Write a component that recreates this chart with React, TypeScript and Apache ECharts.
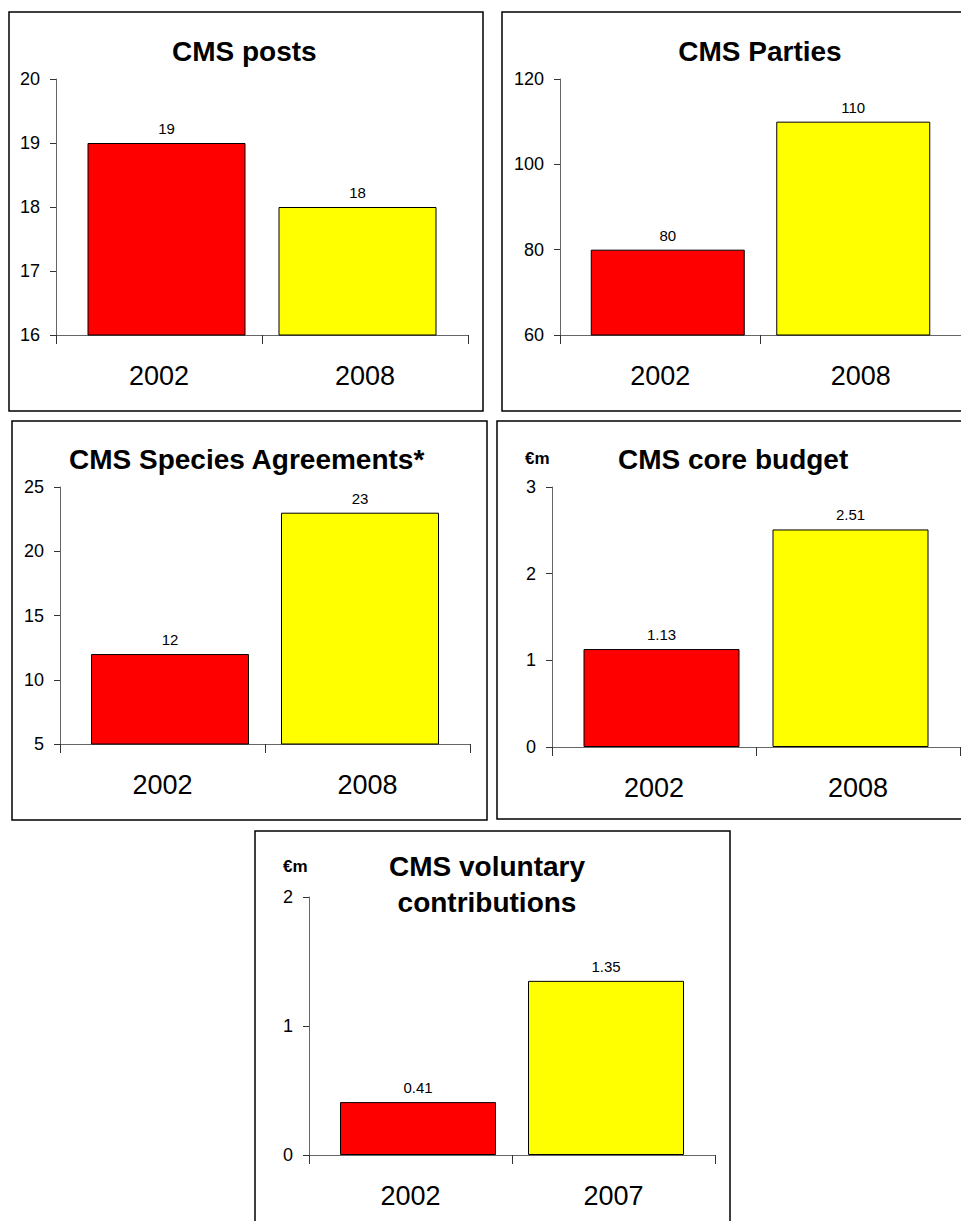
import React, { useEffect, useRef } from "react";
import * as echarts from "echarts";

const categoriesMain = ["2002", "2008"];
const categoriesVoluntary = ["2002", "2007"];
const posts = [19, 18];
const parties = [80, 110];
const agreements = [12, 23];
const coreBudget = [1.13, 2.51];
const voluntary = [0.41, 1.35];
const barColors = ["#FF0000", "#FFFF00"];

const FONT = "'Liberation Sans', Arial, sans-serif";

type Panel = {
  cats: string[];
  values: number[];
  min: number;
  max: number;
  interval: number;
  barWidth: number;
  grid: { left: number; top: number; width: number; height: number };
};

const panels: Panel[] = [
  { cats: categoriesMain, values: posts, min: 16, max: 20, interval: 1, barWidth: 158, grid: { left: 56, top: 79, width: 412, height: 256 } },
  { cats: categoriesMain, values: parties, min: 60, max: 120, interval: 20, barWidth: 154, grid: { left: 560, top: 79, width: 402, height: 256 } },
  { cats: categoriesMain, values: agreements, min: 5, max: 25, interval: 5, barWidth: 158, grid: { left: 60, top: 487, width: 410, height: 257 } },
  { cats: categoriesMain, values: coreBudget, min: 0, max: 3, interval: 1, barWidth: 156, grid: { left: 552, top: 487, width: 408, height: 260 } },
  { cats: categoriesVoluntary, values: voluntary, min: 0, max: 2, interval: 1, barWidth: 156, grid: { left: 309, top: 897, width: 406, height: 258 } },
];

const SHIFT = 7.5;

export default function App() {
  const ref = useRef<HTMLDivElement>(null);
  useEffect(() => {
    if (!ref.current) return;
    const chart = echarts.init(ref.current, null, { renderer: "svg" });
    const titleStyle = { fontFamily: FONT, fontSize: 28, fontWeight: "bold", fill: "#000" };
    const euroStyle = { fontFamily: FONT, fontSize: 17, fontWeight: "bold", fill: "#000" };
    const border = (x: number, y: number, w: number, h: number) => ({
      type: "rect",
      shape: { x, y, width: w, height: h },
      style: { fill: "none", stroke: "#000", lineWidth: 1.5 },
      silent: true,
      z: 0,
    });
    const title = (text: string, x: number, y: number, align: string) => ({
      type: "text",
      x,
      y,
      style: { ...titleStyle, text, align, verticalAlign: "middle" },
    });
    const label = {
      show: true,
      position: "top",
      distance: 7,
      fontFamily: FONT,
      fontSize: 15,
      color: "#000",
      formatter: (d: any) => String(d.value),
    };
    const series: any[] = [];
    panels.forEach((p, i) => {
      const gap = ((2 * SHIFT - p.barWidth) / p.barWidth) * 100;
      // first series (left slot) holds the 2nd category -> shifted left
      series.push({
        type: "bar",
        xAxisIndex: i,
        yAxisIndex: i,
        barWidth: p.barWidth,
        barGap: gap + "%",
        data: ["-", p.values[1]],
        itemStyle: { color: barColors[1], borderColor: "#000", borderWidth: 1 },
        label,
      });
      // second series (right slot) holds the 1st category -> shifted right
      series.push({
        type: "bar",
        xAxisIndex: i,
        yAxisIndex: i,
        barWidth: p.barWidth,
        barGap: gap + "%",
        data: [p.values[0], "-"],
        itemStyle: { color: barColors[0], borderColor: "#000", borderWidth: 1 },
        label,
      });
    });
    const option: any = {
      animation: false,
      backgroundColor: "#fff",
      graphic: [
        border(9, 12, 474, 399),
        border(502, 12, 470, 399),
        border(12, 421, 475, 399),
        border(497, 421, 470, 398),
        border(255, 831, 475, 400),
        title("CMS posts", 172, 51, "left"),
        title("CMS Parties", 760, 51, "center"),
        title("CMS Species Agreements*", 69, 459, "left"),
        title("CMS core budget", 618, 459, "left"),
        title("CMS voluntary", 487, 866, "center"),
        title("contributions", 487, 902, "center"),
        { type: "text", x: 525, y: 458, style: { ...euroStyle, text: "€m", align: "left", verticalAlign: "middle" } },
        { type: "text", x: 283, y: 866, style: { ...euroStyle, text: "€m", align: "left", verticalAlign: "middle" } },
      ],
      grid: panels.map((p) => ({ ...p.grid, containLabel: false })),
      xAxis: panels.map((p, i) => ({
        type: "category",
        gridIndex: i,
        data: p.cats,
        axisLine: { show: true, lineStyle: { color: "#666", width: 1 } },
        axisTick: { show: true, length: 9, lineStyle: { color: "#333" } },
        axisLabel: { fontFamily: FONT, fontSize: 27, color: "#000", margin: 27 },
        splitLine: { show: false },
      })),
      yAxis: panels.map((p, i) => ({
        type: "value",
        gridIndex: i,
        min: p.min,
        max: p.max,
        interval: p.interval,
        axisLine: { show: true, lineStyle: { color: "#666", width: 1 } },
        axisTick: { show: true, length: 6, lineStyle: { color: "#333" } },
        axisLabel: { fontFamily: FONT, fontSize: 18, color: "#000", margin: 16 },
        splitLine: { show: false },
      })),
      series,
    };
    chart.setOption(option);
    return () => chart.dispose();
  }, []);
  return (
    <div
      ref={ref}
      style={{ position: "absolute", left: 0, top: 0, width: 961, height: 1221 }}
    />
  );
}
